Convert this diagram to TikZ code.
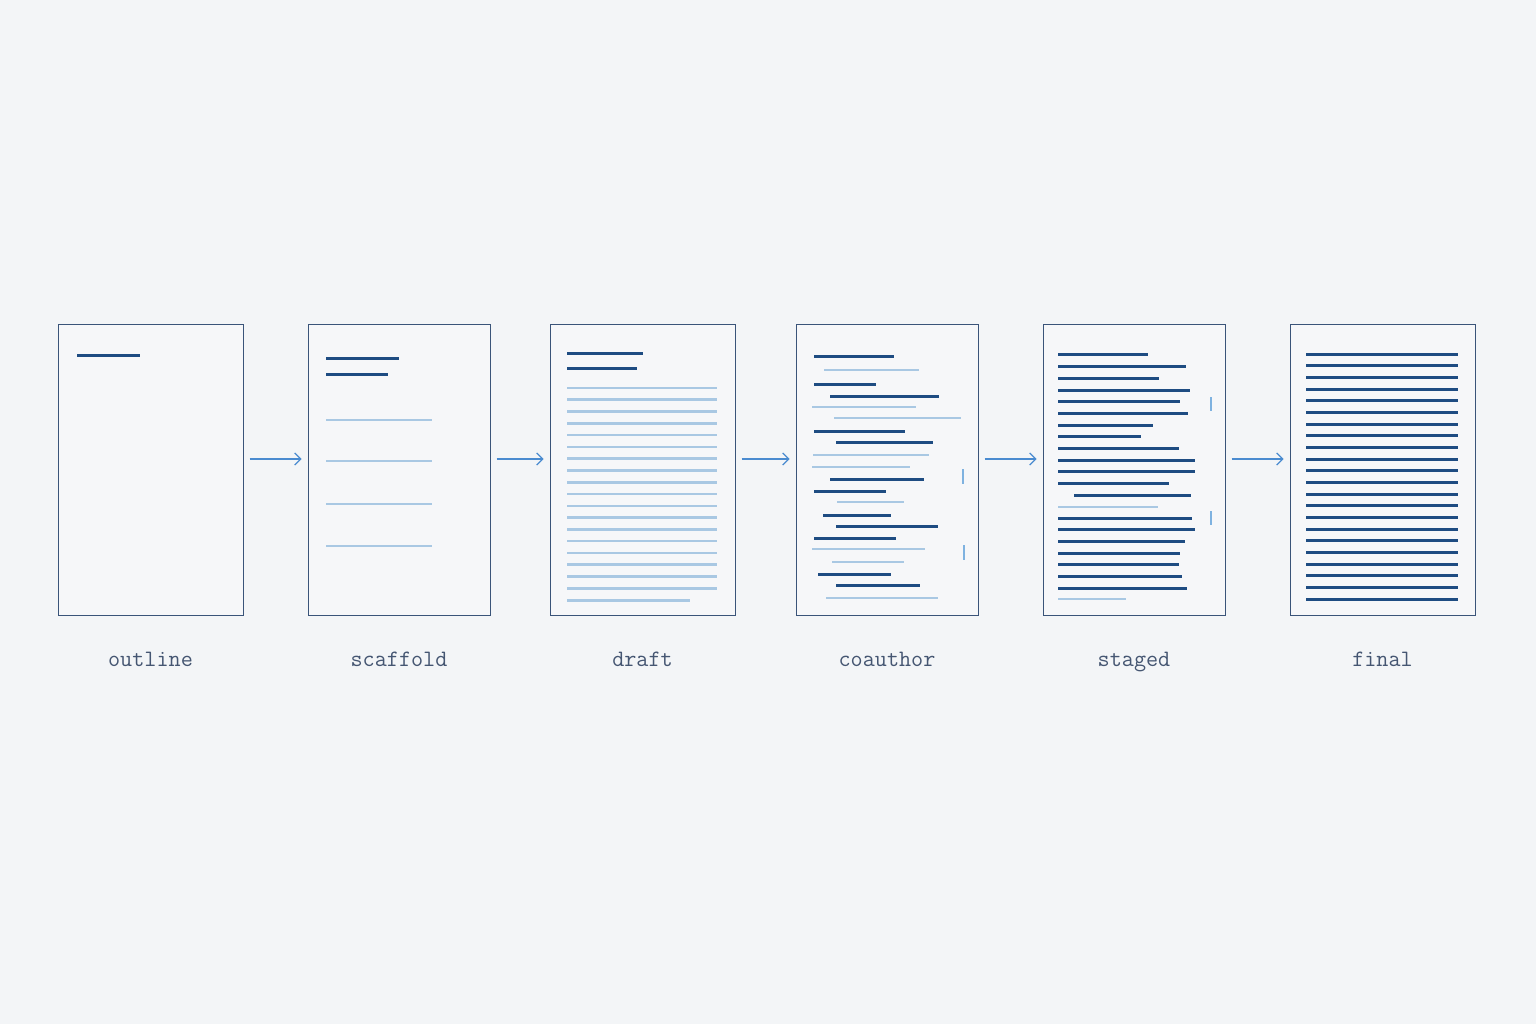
\documentclass[tikz,border=0pt]{standalone}
\usepackage{tikz}
\usetikzlibrary{arrows.meta,positioning}

\definecolor{paper}{HTML}{F3F5F7}
\definecolor{sheet}{HTML}{F6F7F9}
\definecolor{edge}{HTML}{3A5479}
\definecolor{inkblue}{HTML}{1E4C82}
\definecolor{paleblue}{HTML}{A9C8E3}
\definecolor{arrowblue}{HTML}{4A8BD0}
\definecolor{tickblue}{HTML}{7FB2E0}
\definecolor{labelgrey}{HTML}{455672}

\begin{document}
\begin{tikzpicture}[x=1pt,y=-1pt,
    page/.style={draw=edge,fill=sheet,line width=1pt,inner sep=0pt,outer sep=0pt,minimum height=291pt},
    ink/.style={draw=inkblue,line width=3pt},
    faint/.style={draw=paleblue,line width=2.6pt},
    notch/.style={draw=tickblue,line width=1.5pt},
    flow/.style={draw=arrowblue,line width=1.2pt,-{Straight Barb[length=6pt,width=12pt]},shorten <=6.5pt,shorten >=6.5pt},
    caption/.style={text=labelgrey,font=\ttfamily\fontsize{23.5}{28}\selectfont,inner sep=0pt,text height=16pt,text depth=5pt}]

    \fill[paper] (0,0) rectangle (1536,1024);
    \useasboundingbox (0,0) rectangle (1536,1024);

    % the six pages
    \node[page,minimum width=185pt] (outline) at (150.5,469.5) {};
    \node[page,minimum width=182pt] (scaffold) at (399,469.5) {};
    \node[page,minimum width=185pt] (draft) at (642.5,469.5) {};
    \node[page,minimum width=182pt] (coauthor) at (887,469.5) {};
    \node[page,minimum width=182pt] (staged) at (1134,469.5) {};
    \node[page,minimum width=185pt] (final) at (1382.5,469.5) {};

    % outline
    \draw[ink] (77,355) -- (140,355);

    % scaffold
    \draw[ink] (326,358) -- (399,358);
    \draw[ink] (326,374) -- (388,374);
    \foreach \y in {420,461,504,546}
        \draw[faint] (326,\y) -- (432,\y);

    % draft
    \draw[ink] (567,353) -- (643,353);
    \draw[ink] (567,368) -- (637,368);
    \foreach \i in {0,...,17}
        \draw[faint] (567,{388+\i*11.78}) -- (717,{388+\i*11.78});
    \draw[faint] (567,600.5) -- (690,600.5);

    % coauthor
    \foreach \y/\a/\b/\s in {356/814/894/ink, 370/824/919/faint, 384/814/876/ink,
        396/830/939/ink, 407/812/916/faint, 418/834/961/faint, 431/814/905/ink,
        442/836/933/ink, 455/813/929/faint, 467/812/910/faint, 479/830/924/ink,
        491/814/886/ink, 502/837/904/faint, 515/823/891/ink, 526/836/938/ink,
        538/814/896/ink, 549/812/925/faint, 562/832/904/faint, 574/818/891/ink,
        585/836/920/ink, 598/826/938/faint}
        \draw[\s] (\a,\y) -- (\b,\y);
    \draw[notch] (963,469) -- (963,484);
    \draw[notch] (964,545) -- (964,560);

    % staged
    \foreach \y/\a/\b/\s in {354/1058/1148/ink, 366/1058/1186/ink, 378/1058/1159/ink,
        390/1058/1190/ink, 401/1058/1180/ink, 413/1058/1188/ink, 425/1058/1153/ink,
        436/1058/1141/ink, 448/1058/1179/ink, 460/1058/1195/ink, 471/1058/1195/ink,
        483/1058/1169/ink, 495/1074/1191/ink, 507/1058/1158/faint, 518/1058/1192/ink,
        529/1058/1195/ink, 541/1058/1185/ink, 553/1058/1180/ink, 564/1058/1179/ink,
        576/1058/1182/ink, 588/1058/1187/ink, 599/1058/1126/faint}
        \draw[\s] (\a,\y) -- (\b,\y);
    \draw[notch] (1211,397) -- (1211,411);
    \draw[notch] (1211,511) -- (1211,525);

    % final
    \foreach \i in {0,...,21}
        \draw[ink] (1306,{354+\i*11.67}) -- (1458,{354+\i*11.67});

    % arrows
    \draw[flow] ([yshift=10.5pt]outline.east) -- ([yshift=10.5pt]scaffold.west);
    \draw[flow] ([yshift=10.5pt]scaffold.east) -- ([yshift=10.5pt]draft.west);
    \draw[flow] ([yshift=10.5pt]draft.east) -- ([yshift=10.5pt]coauthor.west);
    \draw[flow] ([yshift=10.5pt]coauthor.east) -- ([yshift=10.5pt]staged.west);
    \draw[flow] ([yshift=10.5pt]staged.east) -- ([yshift=10.5pt]final.west);

    % captions
    \node[caption,below=35pt of outline] (outline-label) {outline};
    \node[caption,below=35pt of scaffold] (scaffold-label) {scaffold};
    \node[caption,below=35pt of draft] (draft-label) {draft};
    \node[caption,below=35pt of coauthor] (coauthor-label) {coauthor};
    \node[caption,below=35pt of staged] (staged-label) {staged};
    \node[caption,below=35pt of final] (final-label) {final};
\end{tikzpicture}
\end{document}
